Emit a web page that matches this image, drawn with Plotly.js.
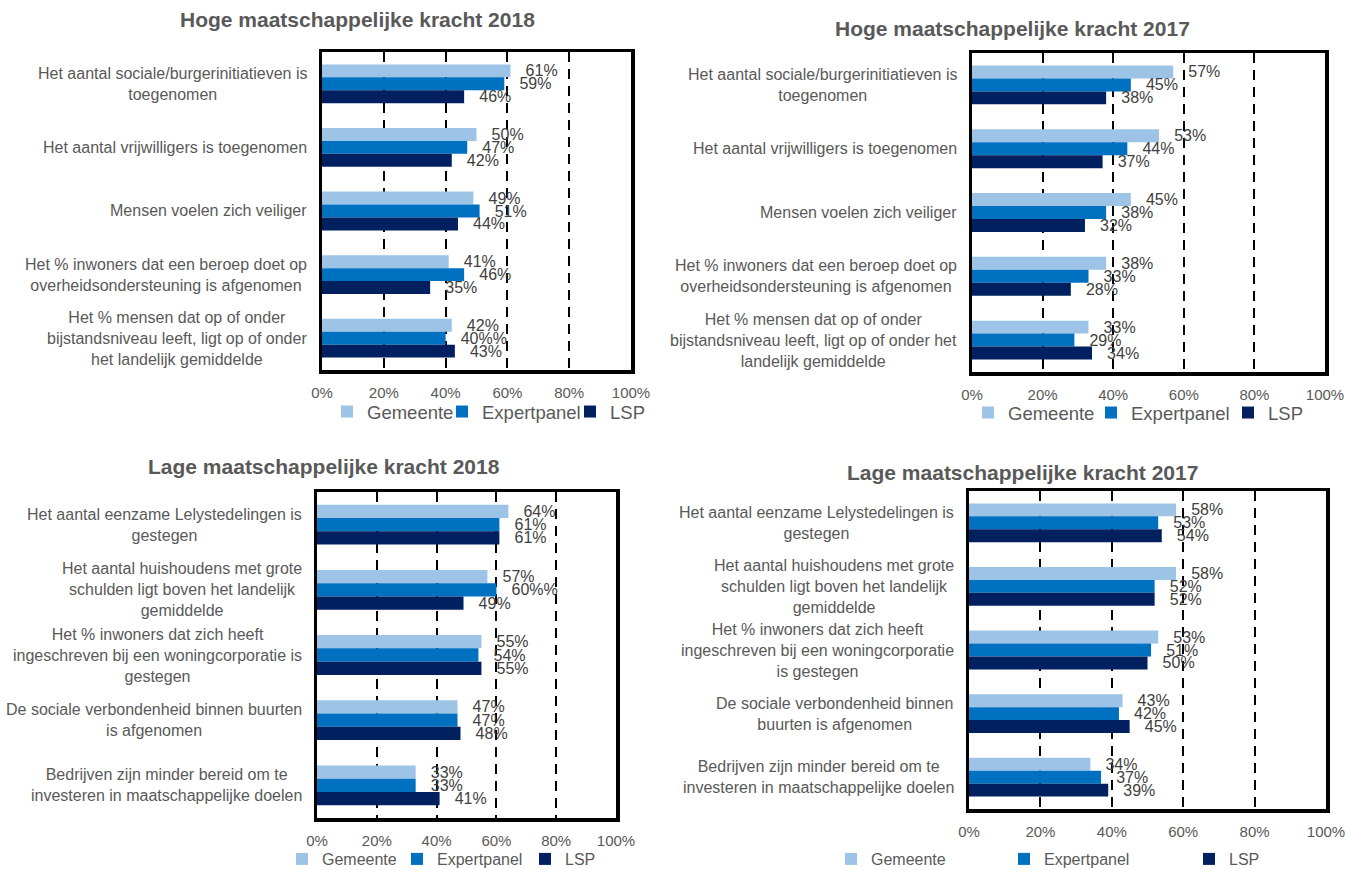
<!DOCTYPE html>
<html>
<head>
<meta charset="utf-8">
<script src="https://cdn.plot.ly/plotly-3.0.1.min.js"></script>
<style>
html,body{margin:0;padding:0;background:#fff;}
#chart{width:1346px;height:870px;}
</style>
</head>
<body>
<div id="chart"></div>
<script>
// ---------------- DATA ----------------
const seriesNames = ['Gemeente', 'Expertpanel', 'LSP'];
const chartTitles = [
  'Hoge maatschappelijke kracht 2018',
  'Hoge maatschappelijke kracht 2017',
  'Lage maatschappelijke kracht 2018',
  'Lage maatschappelijke kracht 2017'
];
const xTickValues = [0, 20, 40, 60, 80, 100];

const hogeCategories2018 = [
  'Het aantal sociale/burgerinitiatieven is<br>toegenomen',
  'Het aantal vrijwilligers is toegenomen',
  'Mensen voelen zich veiliger',
  'Het % inwoners dat een beroep doet op<br>overheidsondersteuning is afgenomen',
  'Het % mensen dat op of onder<br>bijstandsniveau leeft, ligt op of onder<br>het landelijk gemiddelde'
];
const hoge2018Gemeente    = [61, 50, 49, 41, 42];
const hoge2018Expertpanel = [59, 47, 51, 46, 40];
const hoge2018LSP         = [46, 42, 44, 35, 43];

const hogeCategories2017 = [
  'Het aantal sociale/burgerinitiatieven is<br>toegenomen',
  'Het aantal vrijwilligers is toegenomen',
  'Mensen voelen zich veiliger',
  'Het % inwoners dat een beroep doet op<br>overheidsondersteuning is afgenomen',
  'Het % mensen dat op of onder<br>bijstandsniveau leeft, ligt op of onder het<br>landelijk gemiddelde'
];
const hoge2017Gemeente    = [57, 53, 45, 38, 33];
const hoge2017Expertpanel = [45, 44, 38, 33, 29];
const hoge2017LSP         = [38, 37, 32, 28, 34];

const lageCategories2018 = [
  'Het aantal eenzame Lelystedelingen is<br>gestegen',
  'Het aantal huishoudens met grote<br>schulden ligt boven het landelijk<br>gemiddelde',
  'Het % inwoners dat zich heeft<br>ingeschreven bij een woningcorporatie is<br>gestegen',
  'De sociale verbondenheid binnen buurten<br>is afgenomen',
  'Bedrijven zijn minder bereid om te<br>investeren in maatschappelijke doelen'
];
const lage2018Gemeente    = [64, 57, 55, 47, 33];
const lage2018Expertpanel = [61, 60, 54, 47, 33];
const lage2018LSP         = [61, 49, 55, 48, 41];

const lageCategories2017 = [
  'Het aantal eenzame Lelystedelingen is<br>gestegen',
  'Het aantal huishoudens met grote<br>schulden ligt boven het landelijk<br>gemiddelde',
  'Het % inwoners dat zich heeft<br>ingeschreven bij een woningcorporatie<br>is gestegen',
  'De sociale verbondenheid binnen<br>buurten is afgenomen',
  'Bedrijven zijn minder bereid om te<br>investeren in maatschappelijke doelen'
];
const lage2017Gemeente    = [58, 58, 53, 43, 34];
const lage2017Expertpanel = [53, 52, 51, 42, 37];
const lage2017LSP         = [54, 52, 50, 45, 39];

// ---------------- STYLE / LAYOUT ----------------
const W = 1346, H = 870;
const FONT = 'Liberation Sans, Arial, sans-serif';
const GRAY = '#595959';
const LABEL_GRAY = '#404040';
const seriesColors = ['#9DC3E6', '#0070C0', '#002060'];

const panels = [
  { cats: hogeCategories2018, vals: [hoge2018Gemeente, hoge2018Expertpanel, hoge2018LSP],
    box: [322, 631, 52, 370], title: [357, 20], legend: [327, 412], legendFont: 18.5, legendWidths: [70, 83, 40] },
  { cats: hogeCategories2017, vals: [hoge2017Gemeente, hoge2017Expertpanel, hoge2017LSP],
    box: [972, 1325, 53, 372], title: [1012, 28], legend: [968, 413], legendFont: 18.5, legendWidths: [78, 92, 40] },
  { cats: lageCategories2018, vals: [lage2018Gemeente, lage2018Expertpanel, lage2018LSP],
    box: [317, 616, 492, 818], title: [324, 466], legend: [282, 859], legendFont: 16, legendWidths: [70, 83, 40] },
  { cats: lageCategories2017, vals: [lage2017Gemeente, lage2017Expertpanel, lage2017LSP],
    box: [969, 1326, 491, 809], title: [1022, 472], legend: [831, 859], legendFont: 16, legendWidths: [128, 140, 40] }
];

const traces = [];
const layout = {
  width: W, height: H,
  margin: { l: 0, r: 0, t: 0, b: 0, autoexpand: false },
  paper_bgcolor: '#ffffff',
  plot_bgcolor: '#ffffff',
  barmode: 'group',
  bargap: 0.39,
  bargroupgap: 0,
  font: { family: FONT, color: GRAY },
  annotations: [],
  showlegend: true
};

panels.forEach((p, i) => {
  const n = i === 0 ? '' : String(i + 1);
  const xName = 'x' + n, yName = 'y' + n;
  const legendName = 'legend' + n;

  p.vals.forEach((v, s) => {
    traces.push({
      type: 'bar',
      orientation: 'h',
      name: seriesNames[s],
      x: v,
      y: p.cats.map((c, k) => k),
      xaxis: xName, yaxis: yName,
      legend: legendName,
      legendwidth: p.legendWidths[s],
      marker: { color: seriesColors[s], line: { width: 0 } },
      texttemplate: '\u00a0\u00a0\u2009%{x}%',
      textposition: 'outside',
      constraintext: 'none',
      cliponaxis: false,
      textfont: { family: FONT, size: 16, color: LABEL_GRAY },
      hoverinfo: 'skip'
    });
  });

  const [x0, x1, y0, y1] = p.box;
  layout['xaxis' + n] = {
    domain: [x0 / W, x1 / W],
    anchor: yName,
    range: [0, 100],
    tickvals: xTickValues,
    ticktext: xTickValues.map(t => t + '%'),
    showgrid: true,
    gridcolor: '#000000',
    gridwidth: 2,
    griddash: '10px,7px',
    zeroline: false,
    showline: true,
    mirror: true,
    linecolor: '#000000',
    linewidth: 3.5,
    ticks: '',
    ticklabelstandoff: 6,
    ticklabeloverflow: 'allow',
    tickfont: { family: FONT, size: 15, color: GRAY },
    fixedrange: true
  };
  layout['yaxis' + n] = {
    domain: [1 - y1 / H, 1 - y0 / H],
    anchor: xName,
    type: 'linear',
    range: [p.cats.length - 0.5, -0.5],
    showticklabels: false,
    showgrid: false,
    zeroline: false,
    showline: true,
    mirror: true,
    linecolor: '#000000',
    linewidth: 3.5,
    ticks: '',
    fixedrange: true
  };

  // category labels (centred multi-line text, right-aligned block)
  p.cats.forEach((c, k) => {
    layout.annotations.push({
      xref: xName, yref: yName,
      x: 0, y: k,
      xanchor: 'right', yanchor: 'middle',
      xshift: -13,
      align: 'center',
      showarrow: false,
      text: c,
      font: { family: FONT, size: 16, color: GRAY }
    });
  });

  // panel title
  layout.annotations.push({
    xref: 'paper', yref: 'paper',
    x: p.title[0] / W, y: 1 - p.title[1] / H,
    xanchor: 'center', yanchor: 'middle',
    showarrow: false,
    text: '<b>' + chartTitles[i] + '</b>',
    font: { family: FONT, size: 21, color: GRAY }
  });

  layout[legendName] = {
    orientation: 'h',
    x: p.legend[0] / W, xanchor: 'left',
    y: 1 - p.legend[1] / H, yanchor: 'middle',
    bgcolor: 'rgba(0,0,0,0)',
    borderwidth: 0,
    traceorder: 'normal',
    itemclick: false, itemdoubleclick: false,
    font: { family: FONT, size: p.legendFont, color: GRAY }
  };
});

Plotly.newPlot('chart', traces, layout, { displayModeBar: false, staticPlot: true });
</script>
</body>
</html>
